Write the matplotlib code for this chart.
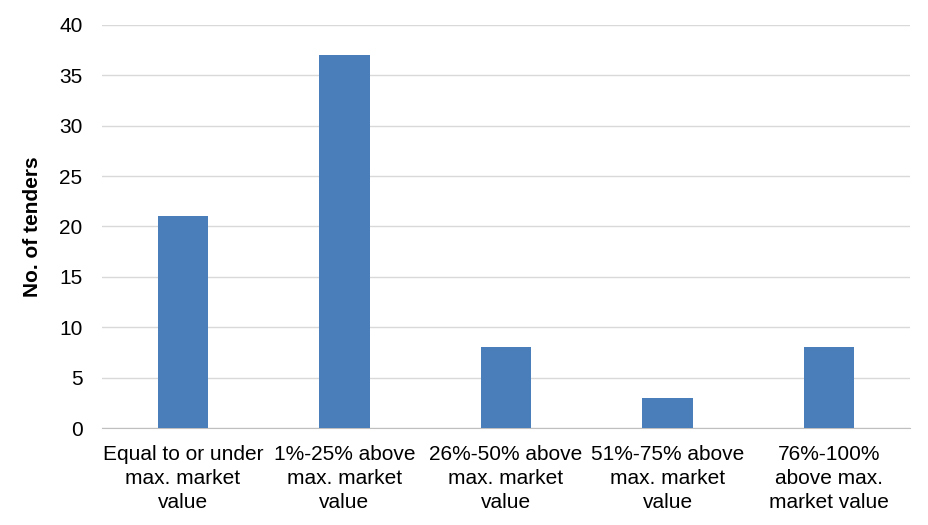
import numpy as np
import matplotlib
matplotlib.use('Agg')
import matplotlib.pyplot as plt

categories = ['Equal to or under\nmax. market\nvalue',
              '1%-25% above\nmax. market\nvalue',
              '26%-50% above\nmax. market\nvalue',
              '51%-75% above\nmax. market\nvalue',
              '76%-100%\nabove max.\nmarket value']
tenders = [21, 37, 8, 3, 8]
yticks = [0, 5, 10, 15, 20, 25, 30, 35, 40]

plt.rcParams['font.family'] = ['Liberation Sans', 'DejaVu Sans']

fig = plt.figure(figsize=(9.29, 5.25), dpi=100)
ax = fig.add_axes([102/929, 1-428/525, 808/929, 403/525])

x = np.arange(len(categories))
ax.bar(x, tenders, width=0.313, color='#4A7EBB', zorder=3)

ax.set_xlim(-0.5, len(categories)-0.5)
ax.set_ylim(0, 40)
ax.set_yticks(yticks)
ax.set_xticks(x)
ax.set_xticklabels(categories, fontsize=15, linespacing=1.33)
ax.tick_params(axis='y', labelsize=15, length=0, pad=14)
ax.tick_params(axis='x', length=0, pad=12)
ax.yaxis.grid(True, color='#D9D9D9', linewidth=1, zorder=0)
for s in ['top', 'right', 'left']:
    ax.spines[s].set_visible(False)
ax.spines['bottom'].set_color('#BFBFBF')
ax.set_ylabel('No. of tenders', fontsize=15, fontweight='bold')
ax.yaxis.set_label_coords(-60/808, 0.5)

plt.savefig('out.png', dpi=100)
